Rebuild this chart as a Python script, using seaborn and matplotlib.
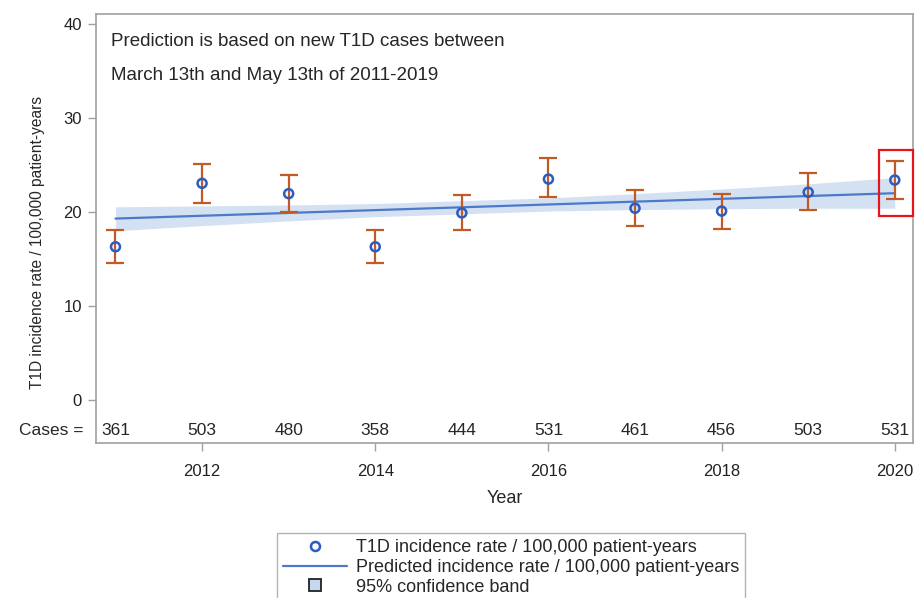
import numpy as np
import pandas as pd
import matplotlib
matplotlib.use("Agg")
import matplotlib.pyplot as plt
import seaborn as sns
from matplotlib.patches import Rectangle
from matplotlib.lines import Line2D

# values
years = [2011, 2012, 2013, 2014, 2015, 2016, 2017, 2018, 2019, 2020]
rate = [16.3, 23.05, 21.95, 16.3, 19.9, 23.5, 20.4, 20.1, 22.1, 23.4]
rate_lo = [14.6, 21.0, 20.03, 14.6, 18.05, 21.6, 18.5, 18.2, 20.2, 21.35]
rate_hi = [18.05, 25.1, 23.97, 18.05, 21.8, 25.7, 22.3, 21.95, 24.2, 25.4]
cases = [361, 503, 480, 358, 444, 531, 461, 456, 503, 531]
predicted = [19.3, 19.6, 19.9, 20.2, 20.5, 20.8, 21.1, 21.4, 21.7, 22.0]
band_lo = [18.0, 18.55, 19.05, 19.5, 19.8, 20.1, 20.25, 20.35, 20.4, 20.4]
band_hi = [20.55, 20.65, 20.75, 20.9, 21.2, 21.5, 21.95, 22.45, 23.0, 23.65]

df = pd.DataFrame({"year": years, "rate": rate, "lo": rate_lo, "hi": rate_hi,
                   "cases": cases, "pred": predicted,
                   "band_lo": band_lo, "band_hi": band_hi})

sns.set_style("white")
plt.rcParams["font.family"] = ["Liberation Sans", "DejaVu Sans"]

fig = plt.figure(figsize=(9.17, 5.98), dpi=100)
ax = fig.add_axes([0.1047, 0.2592, 0.8909, 0.7174])

blue = "#2b5cc0"
orange = "#c25a28"
line_blue = "#4c7ac9"
band_col = "#c6d8ef"

ax.fill_between(df["year"], df["band_lo"], df["band_hi"], color=band_col,
                alpha=0.75, linewidth=0, zorder=1)
sns.lineplot(data=df, x="year", y="pred", color=line_blue, linewidth=1.6,
             ax=ax, zorder=2)
ax.errorbar(df["year"], df["rate"],
            yerr=[df["rate"] - df["lo"], df["hi"] - df["rate"]],
            fmt="none", ecolor=orange, elinewidth=1.6, capsize=6.5,
            capthick=1.6, zorder=3)
sns.scatterplot(data=df, x="year", y="rate", marker="o", s=42,
                facecolor="none", edgecolor=blue, linewidth=1.8, ax=ax,
                zorder=4)

ax.set_xlim(2010.775, 2020.21)
ax.set_ylim(-4.57, 41.06)
ax.set_yticks([0, 10, 20, 30, 40])
ax.set_xticks([2012, 2014, 2016, 2018, 2020])
ax.tick_params(axis="both", bottom=True, left=True, direction="out",
               length=6, width=1, color="#a0a0a0", labelsize=12,
               labelcolor="#222222")
ax.tick_params(axis="x", pad=9)
ax.tick_params(axis="y", pad=4)
for s in ax.spines.values():
    s.set_color("#a0a0a0")
    s.set_linewidth(1.2)

ax.set_xlabel("Year", fontsize=13, labelpad=8)
ax.set_ylabel("T1D incidence rate / 100,000 patient-years", fontsize=11.2)
ax.yaxis.set_label_coords(-0.063, 0.468)

for yr, c in zip(years, cases):
    ax.text(yr, -3.2, str(c), ha="center", va="center", fontsize=12.5)
ax.text(-0.015, -3.2, "Cases =", transform=ax.get_yaxis_transform(),
        ha="right", va="center", fontsize=12.5, clip_on=False)

ax.text(0.018, 0.936, "Prediction is based on new T1D cases between",
        transform=ax.transAxes, fontsize=13.5, va="center")
ax.text(0.018, 0.857, "March 13th and May 13th of 2011-2019",
        transform=ax.transAxes, fontsize=13.5, va="center")

ax.add_patch(Rectangle((2019.816, 19.57), 0.39, 7.03, fill=False,
                       edgecolor="#e8141c", linewidth=1.6, clip_on=False,
                       zorder=5))

handles = [
    Line2D([], [], marker="o", linestyle="none", markerfacecolor="none",
           markeredgecolor=blue, markeredgewidth=1.8, markersize=6.5),
    Line2D([], [], color=line_blue, linewidth=1.6),
    Line2D([], [], marker="s", linestyle="none", markerfacecolor=band_col,
           markeredgecolor="#222222", markeredgewidth=1.3, markersize=8),
]
labels = ["T1D incidence rate / 100,000 patient-years",
          "Predicted incidence rate / 100,000 patient-years",
          "95% confidence band"]
leg = fig.legend(handles, labels, loc="upper left",
                 bbox_to_anchor=(268 / 917, 1 - 524 / 598),
                 fontsize=13, frameon=True, fancybox=False,
                 handlelength=3.5, labelspacing=0.15, borderpad=0.35,
                 handletextpad=0.5)
leg.get_frame().set_edgecolor("#a0a0a0")
leg.get_frame().set_linewidth(1.0)

fig.savefig("out.png", dpi=100)
